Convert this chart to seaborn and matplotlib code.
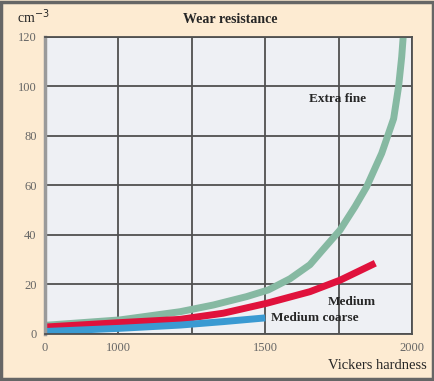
import matplotlib.pyplot as plt
from matplotlib.patches import Rectangle
import pandas as pd
import seaborn as sns

# values (x in the axis' own 0-2000 scale)
fine_x = [0, 410, 736, 917, 1099, 1217, 1335, 1444, 1508, 1608, 1690, 1753, 1835, 1900, 1927, 1944, 1952]
fine_y = [3.5, 5.7, 9.0, 11.7, 15.1, 17.8, 22.3, 28.0, 33.5, 42.0, 51.5, 59.5, 73.0, 87.0, 100.0, 112.0, 120]
medium_x = [0, 410, 736, 972, 1208, 1444, 1610, 1800]
medium_y = [2.8, 4.6, 5.9, 8.4, 12.4, 17.1, 21.8, 28.6]
coarse_x = [0, 410, 736, 972, 1200]
coarse_y = [1.0, 2.3, 3.6, 5.0, 6.5]

series_names = ['Extra fine', 'Medium', 'Medium coarse']
series_colors = ['#86b9a2', '#e0123c', '#3a9ad2']

x_ticks = [0, 400, 800, 1200, 1600, 2000]
x_tick_labels = ['0', '1000', '', '1500', '', '2000']
y_ticks = [0, 20, 40, 60, 80, 100, 120]

frames = []
for name, xs, ys in zip(series_names, [fine_x, medium_x, coarse_x], [fine_y, medium_y, coarse_y]):
    frames.append(pd.DataFrame({'hardness': xs, 'wear': ys, 'grade': name}))
df = pd.concat(frames, ignore_index=True)

sns.set_style('white')
plt.rcParams['font.family'] = ['Liberation Serif', 'DejaVu Serif']

fig = plt.figure(figsize=(4.35, 3.81), dpi=100)
fig.patch.set_facecolor('#fdebd2')
ax = fig.add_axes([0.1034, 0.1234, 0.8437, 0.7795])
ax.set_facecolor('#eef0f4')

sns.lineplot(data=df, x='hardness', y='wear', hue='grade', hue_order=series_names,
             palette=series_colors, linewidth=5, sort=False, legend=False, ax=ax,
             solid_capstyle='butt', solid_joinstyle='round')

ax.set_xlim(0, 2000)
ax.set_ylim(0, 120)
ax.set_xticks(x_ticks)
ax.set_xticklabels(x_tick_labels)
ax.set_yticks(y_ticks)
ax.grid(True, color='#505050', linewidth=1.3)
ax.set_axisbelow(True)
ax.tick_params(direction='out', length=4, width=1, color='#555555',
               labelcolor='#666666', labelsize=9, pad=2)
ax.set_xlabel('')
ax.set_ylabel('')
for side in ['top', 'right', 'bottom']:
    ax.spines[side].set_color('#505050')
    ax.spines[side].set_linewidth(1.3)
ax.spines['left'].set_color('#9a9a9a')
ax.spines['left'].set_linewidth(2.5)

fig.text(0.529, 0.948, 'Wear resistance', ha='center', va='center',
         fontsize=10, fontweight='bold')
fig.text(0.076, 0.955, 'cm$^{-3}$', ha='center', va='center', fontsize=10)
fig.text(0.982, 0.04, 'Vickers hardness', ha='right', va='center', fontsize=10.5)

ax.text(1440, 95, 'Extra fine', fontsize=9.5, fontweight='bold', va='center')
ax.text(1540, 13, 'Medium', fontsize=9.5, fontweight='bold', va='center')
ax.text(1230, 6.5, 'Medium coarse', fontsize=9.5, fontweight='bold', va='center')

fig.patches.append(Rectangle((0.002, 0.004), 0.994, 0.992, transform=fig.transFigure,
                             fill=False, edgecolor='#666666', linewidth=2.5))

fig.savefig('out.png', dpi=100, facecolor=fig.get_facecolor())
